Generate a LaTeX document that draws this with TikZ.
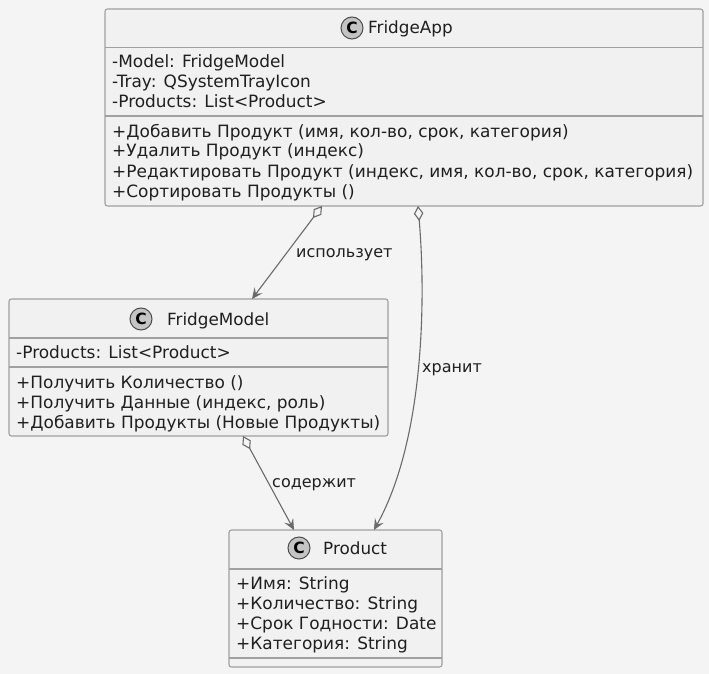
\documentclass[tikz,border=0pt]{standalone}
\usepackage{fontspec}
\setmainfont{DejaVu Sans}
\usetikzlibrary{arrows.meta,calc}
\definecolor{bg}{HTML}{F4F4F4}
\definecolor{boxfill}{HTML}{F1F1F1}
\definecolor{boxline}{HTML}{A0A0A0}
\definecolor{wire}{HTML}{6A6A6A}
\definecolor{badgefill}{HTML}{C4C4C4}

\tikzset{
  classbox/.style={rectangle, draw=boxline, fill=boxfill, line width=1.1pt,
    rounded corners=2.5pt, inner sep=0pt, outer sep=0pt},
  sepline/.style={draw=boxline, line width=1.1pt},
  member/.style={anchor=base west, inner sep=0pt, text=black!88,
    font=\fontsize{16.95}{20}\selectfont},
  classname/.style={anchor=base west, inner sep=0pt, text=black!88,
    font=\fontsize{16.8}{20}\selectfont},
  badge/.style={circle, draw=black!70, fill=badgefill, line width=1pt,
    minimum size=22pt, inner sep=0pt, font=\bfseries\fontsize{15.5}{15.5}\selectfont},
  rel/.style={draw=wire, line width=1.1pt,
    {Diamond[open,length=15pt,width=9.5pt]}-{Stealth[length=11pt,width=10pt,inset=4.5pt]}},
  rellabel/.style={anchor=base west, inner sep=0pt, text=black!88,
    font=\fontsize{16}{16}\selectfont},
}

\begin{document}
\begin{tikzpicture}[x=1pt,y=-1pt]
\fill[bg] (0,0) rectangle (709,674);
\useasboundingbox (0,0) rectangle (709,674);

% ---- FridgeApp ----
\node[classbox, minimum width=598pt, minimum height=197pt] (app) at (404,107.5) {};
\draw[sepline] ($(app.north west)+(0,38.5)$) -- ($(app.north east)+(0,38.5)$);
\draw[sepline] ($(app.north west)+(0,107)$) -- ($(app.north east)+(0,107)$);
\node[badge] (appc) at (352,28) {C};
\node[classname] (appname) at (368,34) {FridgeApp};
\node[member] (a1) at (112,68) {-Model: FridgeModel};
\node[member] (a2) at (112,88) {-Tray: QSystemTrayIcon};
\node[member] (a3) at (112,108) {-Products: List<Product>};
\node[member] (m1) at (112,137) {+Добавить Продукт (имя, кол-во, срок, категория)};
\node[member] (m2) at (112,157) {+Удалить Продукт (индекс)};
\node[member] (m3) at (112,177) {+Редактировать Продукт (индекс, имя, кол-во, срок, категория)};
\node[member] (m4) at (112,197) {+Сортировать Продукты ()};

% ---- FridgeModel ----
\node[classbox, minimum width=379pt, minimum height=137pt] (model) at (198.5,367.5) {};
\draw[sepline] ($(model.north west)+(0,39)$) -- ($(model.north east)+(0,39)$);
\draw[sepline] ($(model.north west)+(0,68)$) -- ($(model.north east)+(0,68)$);
\node[badge] (modelc) at (141,319) {C};
\node[classname] (modelname) at (167,325) {FridgeModel};
\node[member] (b1) at (16,358) {-Products: List<Product>};
\node[member] (n1) at (16,388) {+Получить Количество ()};
\node[member] (n2) at (16,408) {+Получить Данные (индекс, роль)};
\node[member] (n3) at (16,428) {+Добавить Продукты (Новые Продукты)};

% ---- Product ----
\node[classbox, minimum width=213pt, minimum height=137pt] (product) at (335.5,598.5) {};
\draw[sepline] ($(product.north west)+(0,39)$) -- ($(product.north east)+(0,39)$);
\draw[sepline] ($(product.north west)+(0,128)$) -- ($(product.north east)+(0,128)$);
\node[badge] (productc) at (299,548) {C};
\node[classname] (productname) at (323,554) {Product};
\node[member] (p1) at (236,589.5) {+Имя: String};
\node[member] (p2) at (236,609.5) {+Количество: String};
\node[member] (p3) at (236,629.5) {+Срок Годности: Date};
\node[member] (p4) at (236,649.5) {+Категория: String};

% ---- relations ----
\draw[rel] ($(app.south west)+(217,0)$) -- ($(model.north west)+(243,0)$);
\draw[rel] ($(app.south west)+(313,0)$) .. controls (426,300) and (424,440) .. ($(product.north west)+(145,0)$);
\draw[rel] ($(model.south west)+(234,0)$) -- ($(product.north west)+(65,0)$);

\node[rellabel] (l1) at (296,257) {использует};
\node[rellabel] (l2) at (422,372) {хранит};
\node[rellabel] (l3) at (272,487) {содержит};
\end{tikzpicture}
\end{document}
